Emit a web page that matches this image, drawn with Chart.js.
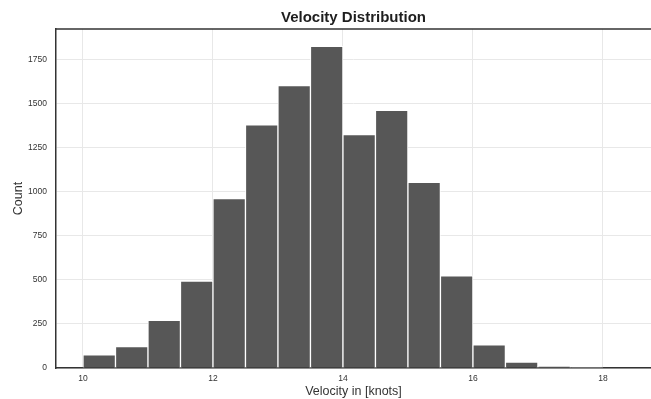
<!DOCTYPE html>
<html>
<head>
<meta charset="utf-8">
<title>Velocity Distribution</title>
<script src="https://cdn.jsdelivr.net/npm/chart.js@4"></script>
<style>
  html, body { margin: 0; padding: 0; background: #fff; }
  #wrap { width: 651px; height: 399px; }
</style>
</head>
<body>
<div id="wrap"><canvas id="velocityChart" width="651" height="399"></canvas></div>
<script>
// histogram bins (0.5 knot wide) and counts
const binStarts = [10, 10.5, 11, 11.5, 12, 12.5, 13, 13.5, 14, 14.5, 15, 15.5, 16, 16.5, 17, 17.5];
const binCounts = [75, 121, 271, 494, 962, 1382, 1604, 1827, 1326, 1464, 1055, 524, 131, 34, 9, 2];
const binWidth = 0.5;

const xTicks = [10, 12, 14, 16, 18];
const yTicks = [0, 250, 500, 750, 1000, 1250, 1500, 1750];

const barData = binStarts.map((start, i) => ({ x: start + binWidth / 2, y: binCounts[i] }));

const fontFamily = "'Liberation Sans', Arial, sans-serif";

// top spine of the axes frame
const frameTop = {
    id: "frameTop",
    afterDraw(chart) {
        const { ctx, chartArea } = chart;
        ctx.save();
        ctx.strokeStyle = "#333";
        ctx.lineWidth = 1.5;
        ctx.beginPath();
        ctx.moveTo(chartArea.left, chartArea.top);
        ctx.lineTo(chartArea.right, chartArea.top);
        ctx.stroke();
        ctx.restore();
    }
};

const chartConfig = {
    type: "bar",
    data: {
        datasets: [{
            label: "Count",
            data: barData,
            backgroundColor: "#575757",
            borderColor: "#ffffff",
            borderWidth: 1,
            barPercentage: 1,
            categoryPercentage: 1
        }]
    },
    options: {
        responsive: false,
        animation: false,
        layout: { padding: { left: 0, right: 0, top: 0, bottom: 0 } },
        plugins: {
            legend: { display: false },
            tooltip: { enabled: false },
            title: {
                display: true,
                text: "Velocity Distribution",
                fullSize: false,
                color: "#1e1e1e",
                font: { family: fontFamily, size: 15, weight: "bold" },
                padding: { top: 9, bottom: 2 }
            }
        },
        scales: {
            x: {
                type: "linear",
                offset: false,
                min: 9.585,
                max: 18.74,
                afterBuildTicks: (axis) => { axis.ticks = xTicks.map(v => ({ value: v })); },
                afterFit: (axis) => { axis.height = 31; },
                grid: { color: "#e8e8e8", lineWidth: 1, drawTicks: false, offset: false },
                border: { display: true, color: "#333", width: 1.5 },
                ticks: {
                    color: "#333",
                    font: { family: fontFamily, size: 8.5 },
                    padding: 6,
                    maxRotation: 0,
                    callback: (v) => String(v)
                },
                title: {
                    display: true,
                    text: "Velocity in [knots]",
                    color: "#333",
                    font: { family: fontFamily, size: 12.5 },
                    padding: { top: 0, bottom: 0 }
                }
            },
            y: {
                min: 0,
                max: 1926,
                afterBuildTicks: (axis) => { axis.ticks = yTicks.map(v => ({ value: v })); },
                afterFit: (axis) => { axis.width = 56; },
                grid: { color: "#e8e8e8", lineWidth: 1, drawTicks: false },
                border: { display: true, color: "#333", width: 1.5 },
                ticks: {
                    color: "#333",
                    font: { family: fontFamily, size: 8.5 },
                    padding: 9,
                    callback: (v) => String(v)
                },
                title: {
                    display: true,
                    text: "Count",
                    color: "#333",
                    font: { family: fontFamily, size: 12.5 },
                    padding: { top: 11, bottom: 0 }
                }
            }
        }
    },
    plugins: [frameTop]
};

const velocityChart = new Chart(
    document.getElementById("velocityChart"),
    chartConfig
);
</script>
</body>
</html>
